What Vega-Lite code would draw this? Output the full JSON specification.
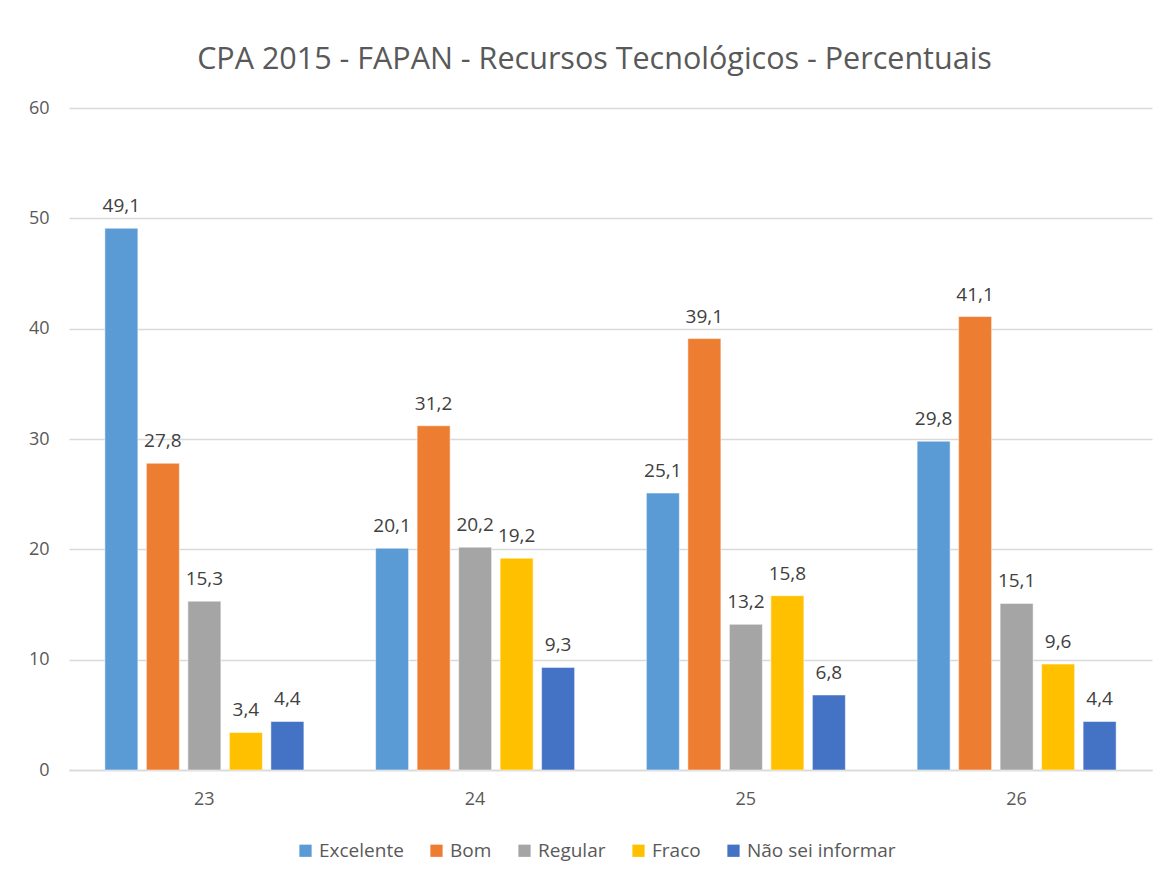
{
  "$schema": "https://vega.github.io/schema/vega-lite/v6.json",
  "autosize": "none",
  "width": 1083,
  "height": 662,
  "padding": {"left": 69, "top": 108, "right": 16, "bottom": 110},
  "background": "white",
  "title": {
    "text": "CPA 2015 - FAPAN - Recursos Tecnológicos - Percentuais",
    "font": "Open Sans",
    "fontSize": 30.5,
    "fontWeight": "normal",
    "color": "#595959",
    "anchor": "middle",
    "dx": -16,
    "offset": 24
  },
  "config": {
    "locale": {"number": {"decimal": ",", "thousands": ".", "grouping": [3], "currency": ["R$", ""]}},
    "view": {"stroke": null},
    "font": "Open Sans"
  },
  "data": {
    "values": [
      {"questao": "23", "resposta": "Excelente", "valor": 49.1},
      {"questao": "23", "resposta": "Bom", "valor": 27.8},
      {"questao": "23", "resposta": "Regular", "valor": 15.3},
      {"questao": "23", "resposta": "Fraco", "valor": 3.4},
      {"questao": "23", "resposta": "Não sei informar", "valor": 4.4},
      {"questao": "24", "resposta": "Excelente", "valor": 20.1},
      {"questao": "24", "resposta": "Bom", "valor": 31.2},
      {"questao": "24", "resposta": "Regular", "valor": 20.2},
      {"questao": "24", "resposta": "Fraco", "valor": 19.2},
      {"questao": "24", "resposta": "Não sei informar", "valor": 9.3},
      {"questao": "25", "resposta": "Excelente", "valor": 25.1},
      {"questao": "25", "resposta": "Bom", "valor": 39.1},
      {"questao": "25", "resposta": "Regular", "valor": 13.2},
      {"questao": "25", "resposta": "Fraco", "valor": 15.8},
      {"questao": "25", "resposta": "Não sei informar", "valor": 6.8},
      {"questao": "26", "resposta": "Excelente", "valor": 29.8},
      {"questao": "26", "resposta": "Bom", "valor": 41.1},
      {"questao": "26", "resposta": "Regular", "valor": 15.1},
      {"questao": "26", "resposta": "Fraco", "valor": 9.6},
      {"questao": "26", "resposta": "Não sei informar", "valor": 4.4}
    ]
  },
  "encoding": {
    "x": {
      "field": "questao", "type": "nominal",
      "scale": {"paddingInner": 0.265, "paddingOuter": 0.1325},
      "axis": {
        "title": null, "labelAngle": 0, "ticks": false,
        "domainColor": "#D9D9D9", "domainWidth": 1.5,
        "labelFont": "Open Sans", "labelFontSize": 18, "labelColor": "#595959",
        "labelPadding": 20, "grid": false
      }
    },
    "xOffset": {
      "field": "resposta", "type": "nominal",
      "sort": ["Excelente", "Bom", "Regular", "Fraco", "Não sei informar"],
      "scale": {"paddingInner": 0.205, "paddingOuter": 0}
    },
    "y": {
      "field": "valor", "type": "quantitative",
      "scale": {"domain": [0, 60], "nice": false},
      "axis": {
        "title": null, "values": [0, 10, 20, 30, 40, 50, 60],
        "domain": false, "ticks": false,
        "gridColor": "#D9D9D9", "gridWidth": 1.5,
        "labelFont": "Open Sans", "labelFontSize": 18, "labelColor": "#595959",
        "labelPadding": 20
      }
    }
  },
  "layer": [
    {
      "mark": {"type": "bar", "stroke": "white", "strokeWidth": 0.5},
      "encoding": {
        "color": {
          "field": "resposta", "type": "nominal",
          "sort": ["Excelente", "Bom", "Regular", "Fraco", "Não sei informar"],
          "scale": {
            "domain": ["Excelente", "Bom", "Regular", "Fraco", "Não sei informar"],
            "range": ["#5B9BD5", "#ED7D31", "#A5A5A5", "#FFC000", "#4472C4"]
          },
          "legend": {
            "title": null, "orient": "none", "direction": "horizontal",
            "legendX": 227, "legendY": 733,
            "symbolType": "square", "symbolSize": 150, "symbolStrokeWidth": 0,
            "labelFont": "Open Sans", "labelFontSize": 19, "labelColor": "#595959",
            "columnPadding": 23, "labelOffset": 4
          }
        }
      }
    },
    {
      "mark": {"type": "text", "baseline": "bottom", "dy": -12, "font": "Open Sans", "fontSize": 19, "color": "#404040"},
      "encoding": {
        "text": {"field": "valor", "type": "quantitative", "format": ".1f"}
      }
    }
  ]
}
